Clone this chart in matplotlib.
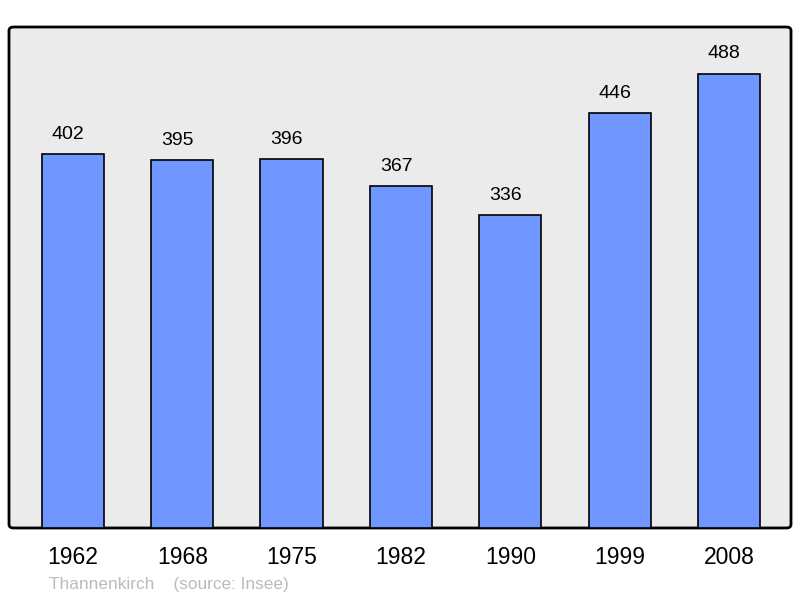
import matplotlib
matplotlib.use("Agg")
import matplotlib.pyplot as plt
from matplotlib.patches import FancyBboxPatch

years = ["1962", "1968", "1975", "1982", "1990", "1999", "2008"]
population = [402, 395, 396, 367, 336, 446, 488]
caption = "Thannenkirch    (source: Insee)"

plt.rcParams['font.family'] = ['Liberation Sans', 'DejaVu Sans']

fig = plt.figure(figsize=(8, 5.98), dpi=100)
L, R, T, B = 9/800, 791/800, 1 - 27/598, 1 - 528/598
ax = fig.add_axes([L, B, R - L, T - B])
ax.set_facecolor('none')
ax.set_zorder(2)
for s in ax.spines.values():
    s.set_visible(False)

# rounded frame
frame = FancyBboxPatch((L, B), R - L, T - B, boxstyle="round,pad=0,rounding_size=0.006",
                       transform=fig.transFigure, facecolor='#ebebeb', edgecolor='black',
                       linewidth=2, zorder=-1)
fig.patches.append(frame)

x = list(range(len(years)))
ax.bar(x, population, width=0.57, color='#7096ff', edgecolor='black', linewidth=1.2, zorder=2)
for xi, v in zip(x, population):
    ax.annotate(str(v), (xi, v), xytext=(-3.5, 8), textcoords='offset points',
                ha='center', va='bottom', fontsize=14, color='black')

ax.set_xlim(-0.585, 6.567)
ax.set_ylim(0, 538)
ax.set_yticks([])
ax.set_xticks(x)
ax.set_xticklabels(years, fontsize=16.5)
ax.tick_params(axis='x', length=0, pad=13)

fig.text(49/800, 1 - 584/598, caption, fontsize=12.4, color='#bbbbbb', ha='left', va='center')

fig.savefig("out.png", dpi=100)
